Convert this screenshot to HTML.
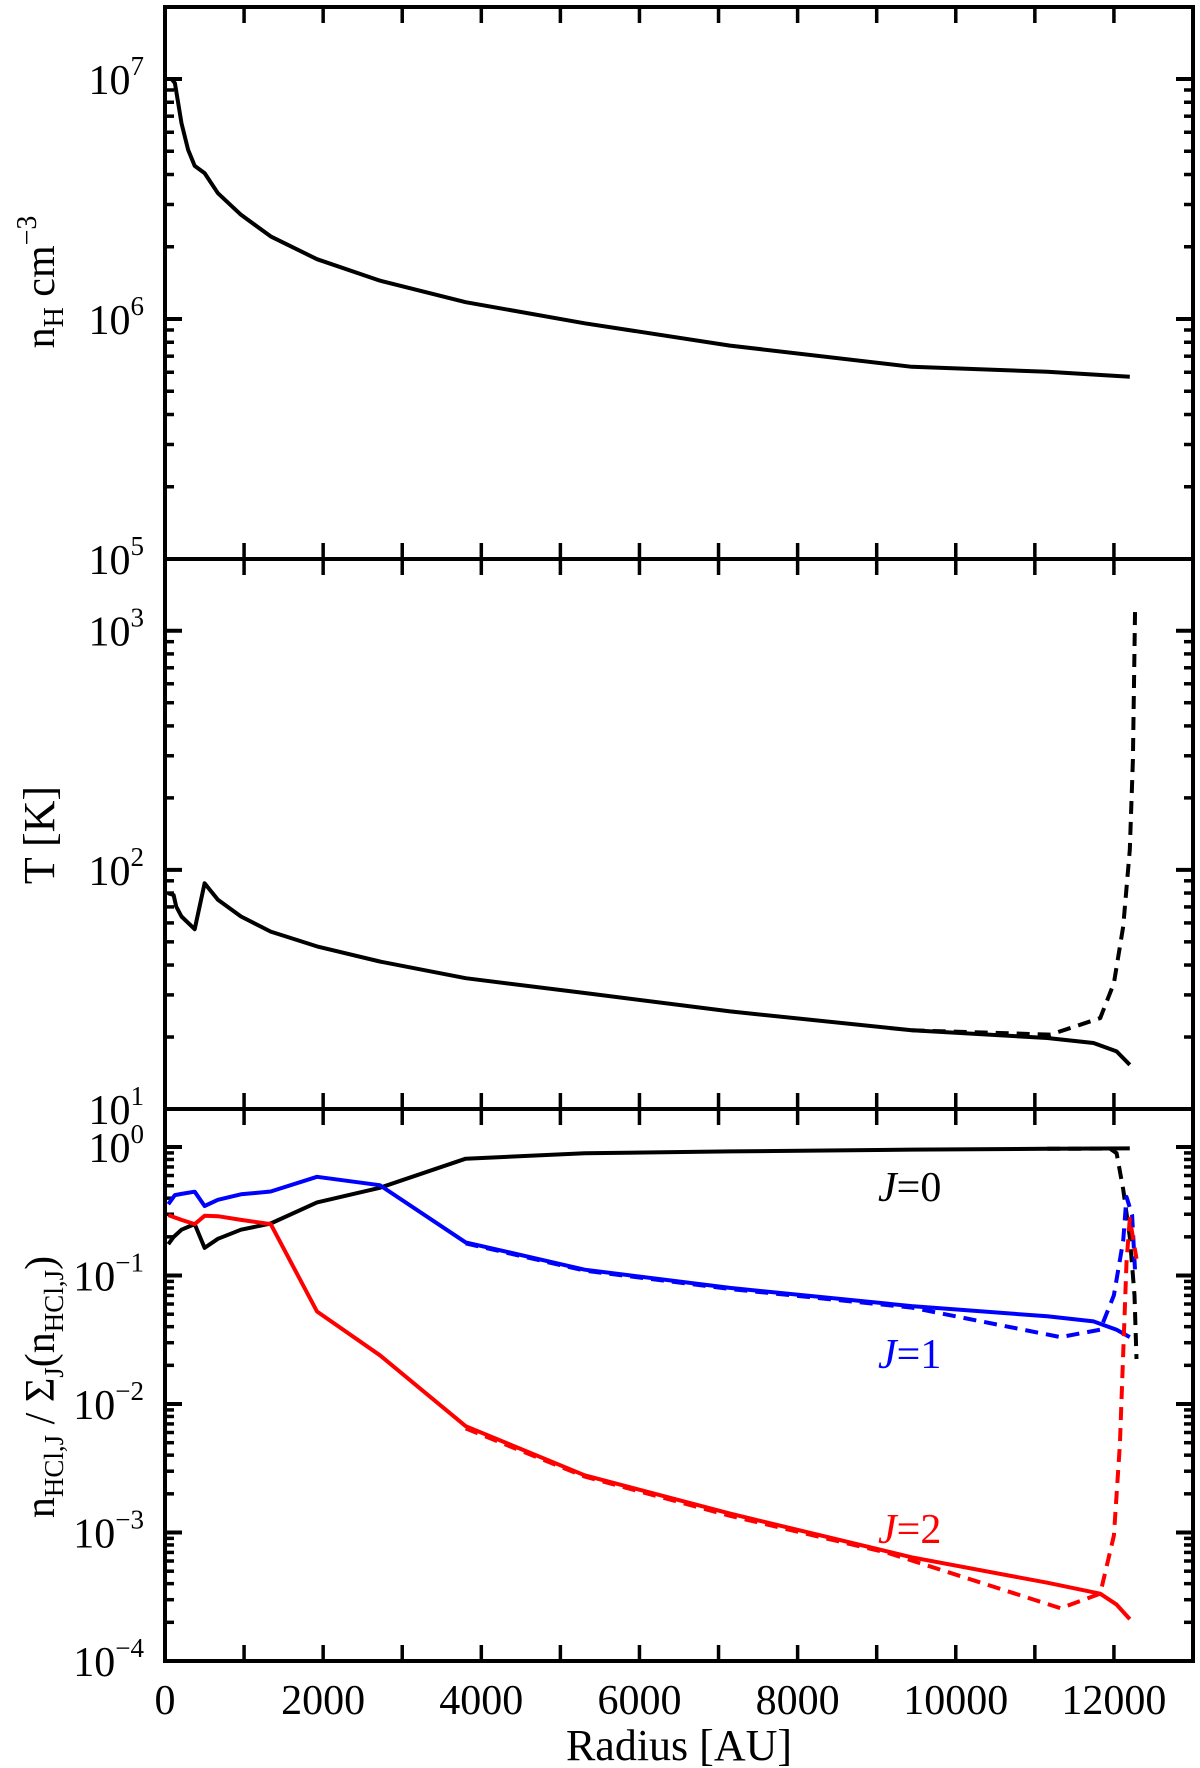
<!DOCTYPE html>
<html><head><meta charset="utf-8">
<style>
html,body{margin:0;padding:0;background:#fff;}
svg{display:block;font-family:"Liberation Serif",serif;}
</style></head>
<body>
<svg id="fig" width="1200" height="1768" viewBox="0 0 1200 1768" xmlns="http://www.w3.org/2000/svg"></svg>
<script>
// ---- data (radius in AU, values as log10) ----
const xTicks = [0,2000,4000,6000,8000,10000,12000];
const densR   = [84,125,209,292,376,501,669,961,1337,1922,2716,3802,5307,7145,9443,11156,12201];
const densLog = [7.0,6.983,6.816,6.705,6.638,6.608,6.524,6.434,6.344,6.249,6.160,6.070,5.982,5.889,5.801,5.780,5.759];

const tR      = [42,109,142,209,376,501,669,961,1337,1922,2716,3802,5307,7145,9443,11156,11742,12034,12201];
const tLog    = [1.902,1.895,1.847,1.805,1.752,1.944,1.875,1.805,1.742,1.680,1.617,1.547,1.485,1.408,1.329,1.297,1.276,1.241,1.185];
const tDashR  = [9443,11198,11826,12000,12117,12201,12240,12268];
const tDashLog= [1.329,1.311,1.380,1.526,1.763,2.084,2.46,3.10];

const j0R     = [42,109,209,376,501,669,961,1337,1922,2716,3802,5307,7145,9443,11156,12201];
const j0Log   = [-0.756,-0.70,-0.643,-0.60,-0.785,-0.714,-0.643,-0.595,-0.431,-0.317,-0.091,-0.048,-0.034,-0.02,-0.014,-0.011];
const j0DashR = [11156,11950,12034,12117,12201,12260,12285];
const j0DashLog=[-0.014,-0.012,-0.048,-0.33,-0.70,-1.153,-1.65];

const j1R     = [42,125,209,376,501,669,961,1337,1922,2716,3802,5307,7145,9443,11156,11742,12034,12201];
const j1Log   = [-0.445,-0.374,-0.365,-0.348,-0.459,-0.411,-0.368,-0.346,-0.232,-0.297,-0.742,-0.955,-1.096,-1.238,-1.317,-1.357,-1.422,-1.479];
const j1DashR = [3802,5307,7145,9443,11324,11826,12000,12117,12159,12230,12270];
const j1DashLog=[-0.75,-0.962,-1.105,-1.25,-1.479,-1.422,-1.153,-0.728,-0.388,-0.53,-1.0];

const j2R     = [42,209,376,501,669,961,1337,1922,2716,3802,5307,7145,9443,11156,11826,12034,12201];
const j2Log   = [-0.53,-0.567,-0.60,-0.535,-0.538,-0.567,-0.60,-1.28,-1.62,-2.173,-2.555,-2.853,-3.193,-3.391,-3.476,-3.561,-3.674];
const j2DashR = [3802,5307,7145,9150,11324,11826,12000,12076,12117,12159,12201,12285];
const j2DashLog=[-2.19,-2.565,-2.87,-3.16,-3.589,-3.476,-3.023,-2.314,-1.606,-0.898,-0.558,-0.87];

const NS = "http://www.w3.org/2000/svg";
const svg = document.getElementById('fig');
const L = 165, R = 1193, XMAX = 13000;
const panels = [
  {top:7,   bot:559,  lo:5,  hi:7.3,  labels:[5,6,7]},
  {top:559, bot:1109, lo:1,  hi:3.3,  labels:[1,2,3]},
  {top:1109,bot:1661, lo:-4, hi:0.296,labels:[-4,-3,-2,-1,0]}
];
function X(r){ return L + (R-L)*r/XMAX; }
function Yf(p){ return v => p.bot - (p.bot-p.top)*(v-p.lo)/(p.hi-p.lo); }
function mk(tag, attrs, parent){
  const e = document.createElementNS(NS, tag);
  for (const k in attrs) e.setAttribute(k, attrs[k]);
  (parent||svg).appendChild(e);
  return e;
}
function line(x1,y1,x2,y2,w,parent){ return mk('line',{x1,y1,x2,y2,stroke:'#000','stroke-width':w},parent); }

panels.forEach((p,i) => {
  const g = mk('g',{});
  
  
  const Y = Yf(p);
  for (let r=1000; r<XMAX; r+=1000){
    line(X(r), p.bot, X(r), p.bot-16, 3.5, g);
    line(X(r), p.top, X(r), p.top+16, 3.5, g);
  }
  for (let d=Math.floor(p.lo); d<=Math.ceil(p.hi); d++){
    for (let m=1; m<10; m++){
      const v = d + Math.log10(m);
      if (v < p.lo-1e-6 || v > p.hi+1e-6) continue;
      const len = m===1 ? 17 : 9;
      const w = m===1 ? 4 : 3.5;
      line(L, Y(v), L+len, Y(v), w, g);
      line(R, Y(v), R-len, Y(v), w, g);
    }
  }
  p.labels.forEach(v => {
    const t = mk('text',{x:144, y:Y(v)+15, 'text-anchor':'end', 'font-size':42}, g);
    
    
    t.textContent = '10';
    const s = mk('tspan',{dy:-19,'font-size':27}, t);
    s.textContent = v<0 ? '\u2212'+(-v) : String(v);
  });
  mk('rect',{x:L,y:p.top,width:R-L,height:p.bot-p.top,fill:'none',stroke:'#000','stroke-width':4}, g);
});

xTicks.forEach(r => {
  const t = mk('text',{x:X(r), y:1714, 'text-anchor':'middle','font-size':42});
  
  
  t.textContent = String(r);
});

function series(rs, vs, p, color, dashed, name){
  const Y = Yf(p);
  const pts = rs.map((r,k) => X(r).toFixed(1)+','+Y(vs[k]).toFixed(1)).join(' ');
  const el = mk('polyline',{points:pts, fill:'none', stroke:color, 'stroke-width':4,
    'stroke-linejoin':'round', 'stroke-dasharray': dashed ? '13,8' : 'none'});
  
  
}
series(densR, densLog, panels[0], '#000', false, 'density-line');
series(tDashR, tDashLog, panels[1], '#000', true, 'temperature-dashed-line');
series(tR, tLog, panels[1], '#000', false, 'temperature-line');
series(j0DashR, j0DashLog, panels[2], '#000', true, 'j0-dashed-line');
series(j0R, j0Log, panels[2], '#000', false, 'j0-line');
series(j1DashR, j1DashLog, panels[2], '#0000ff', true, 'j1-dashed-line');
series(j1R, j1Log, panels[2], '#0000ff', false, 'j1-line');
series(j2DashR, j2DashLog, panels[2], '#ff0000', true, 'j2-dashed-line');
series(j2R, j2Log, panels[2], '#ff0000', false, 'j2-line');
</script>
<svg style="position:absolute;left:0;top:0" width="1200" height="1768">
  <g font-family="Liberation Serif, serif">
    <text x="878" y="1201" font-size="42" font-style="italic" fill="#000">J<tspan font-style="normal">=0</tspan></text>
    <text x="878" y="1368" font-size="42" font-style="italic" fill="#0000ff">J<tspan font-style="normal">=1</tspan></text>
    <text x="878" y="1543" font-size="42" font-style="italic" fill="#ff0000">J<tspan font-style="normal">=2</tspan></text>
    <text x="679" y="1760" font-size="44" text-anchor="middle">Radius [AU]</text>
    <text transform="translate(54,282) rotate(-90)" font-size="42" text-anchor="middle">n<tspan font-size="28" dy="9">H</tspan><tspan dy="-9"> cm</tspan><tspan font-size="28" dy="-18">−3</tspan></text>
    <text transform="translate(54,835) rotate(-90)" font-size="44" text-anchor="middle">T [K]</text>
    <text transform="translate(54,1387) rotate(-90)" font-size="42" text-anchor="middle">n<tspan font-size="27" dy="9">HCl,J</tspan><tspan dy="-9"> / Σ</tspan><tspan font-size="27" dy="9">J</tspan><tspan dy="-9">(n</tspan><tspan font-size="27" dy="9">HCl,J</tspan><tspan dy="-9">)</tspan></text>
  </g>
</svg>
</body></html>
